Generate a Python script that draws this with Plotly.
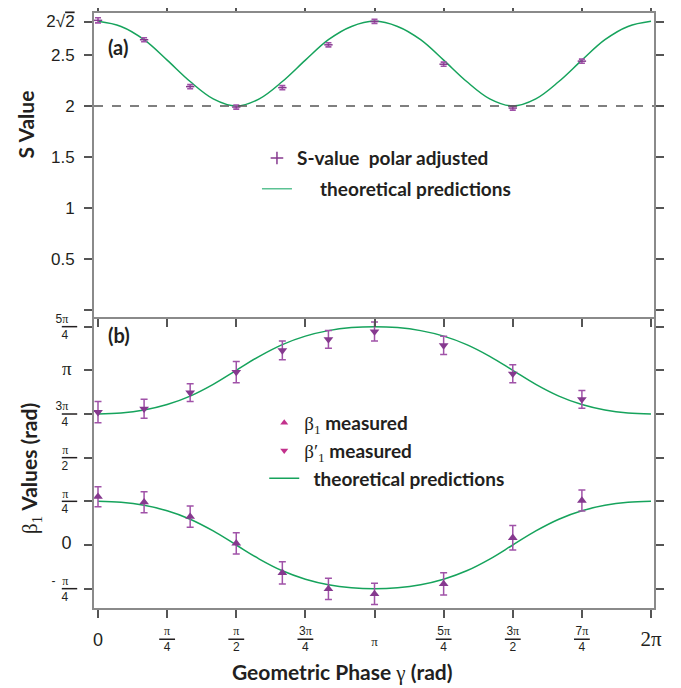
import math
import plotly.graph_objects as go

PI = math.pi

# ---------------- data ----------------
# measurement positions, in units of pi
meas_gamma_pi = [0, 1/6, 1/3, 1/2, 2/3, 5/6, 1, 5/4, 3/2, 7/4]
# theory curve sample positions, in units of pi (steps of pi/12)
curve_gamma_pi = [k / 12 for k in range(25)]

S_meas = [2.84, 2.65, 2.19, 1.99, 2.18, 2.60, 2.83, 2.41, 1.98, 2.44]
S_err = [0.025, 0.02, 0.02, 0.02, 0.02, 0.02, 0.02, 0.02, 0.02, 0.02]
S_curve = [2.83, 2.78, 2.65, 2.45, 2.24, 2.07, 2.00, 2.07, 2.24, 2.45, 2.65, 2.78, 2.83,
           2.78, 2.65, 2.45, 2.24, 2.07, 2.00, 2.07, 2.24, 2.45, 2.65, 2.78, 2.83]

beta_meas = [0.87, 0.77, 0.51, 0.03, -0.50, -0.79, -0.88, -0.70, 0.13, 0.80]
beta_err = [0.18, 0.19, 0.19, 0.19, 0.20, 0.19, 0.19, 0.20, 0.22, 0.19]
betap_meas = [2.39, 2.45, 2.74, 3.11, 3.50, 3.70, 3.84, 3.59, 3.08, 2.62]
betap_err = [0.19, 0.17, 0.16, 0.19, 0.17, 0.16, 0.17, 0.165, 0.16, 0.16]

beta_curve = [0.785, 0.768, 0.714, 0.615, 0.464, 0.253, 0.0, -0.253, -0.464, -0.615, -0.714, -0.768,
              -0.785, -0.768, -0.714, -0.615, -0.464, -0.253, 0.0, 0.253, 0.464, 0.615, 0.714, 0.768, 0.785]
betap_curve = [2.356, 2.374, 2.428, 2.526, 2.678, 2.889, 3.142, 3.394, 3.605, 3.757, 3.856, 3.910,
               3.927, 3.910, 3.856, 3.757, 3.605, 3.394, 3.142, 2.889, 2.678, 2.526, 2.428, 2.374, 2.356]

S_reference = 2.0

x_tick_pi = [0, 1/4, 1/2, 3/4, 1, 5/4, 3/2, 7/4, 2]
x_big_tick_pi = [0, 1, 2]
y_b_tick_pi = [-1/4, 0, 1/4, 1/2, 3/4, 1, 5/4]
y_b_big_tick_pi = [0, 1]
y_a_ticks = [0, 0.5, 1, 1.5, 2, 2.5, 2 * math.sqrt(2)]

# ---------------- styling helpers ----------------
NB = "\u00a0"
SERIF = "Liberation Serif"
SANS = "Liberation Sans"
INK = "#231f20"


def pi_txt(s, size=None):
    st = f"font-family:{SERIF}"
    if size:
        st += f";font-size:{size}px"
    return f"<span style='{st}'>{s}</span>"


def frac(num, den, pad=True):
    p = NB if pad else ""
    return f"{p}{num}{p}<br>{p}{den}{p}"


x_tick_text = [
    "",
    frac(pi_txt("π"), "4", False),
    frac(pi_txt("π"), "2", False),
    frac("3" + pi_txt("π"), "4", False),
    "",
    frac("5" + pi_txt("π"), "4", False),
    frac("3" + pi_txt("π"), "2", False),
    frac("7" + pi_txt("π"), "4", False),
    "",
]
x_big_tick_text = ["0", pi_txt("π", 13), pi_txt("2π", 21)]
y_b_tick_text = [
    "-" + NB + frac(pi_txt("π"), "4"),
    "<span style='font-size:18px'>0</span>",
    frac(pi_txt("π"), "4"),
    frac(pi_txt("π"), "2"),
    frac("3" + pi_txt("π"), "4"),
    pi_txt("π", 19),
    frac("5" + pi_txt("π"), "4"),
]
y_a_tick_text = ["", "0.5", "1", "1.5", "2", "2.5",
                 "2√<span style='text-decoration:overline'>2</span>"]

PURPLE = "#86398f"
ERR = "#a052a8"
MAGENTA = "#c2318c"
GREEN = "#16a35c"
AXIS = "#8a8a8a"
TICK = "#555555"

meas_x = [g * PI for g in meas_gamma_pi]
curve_x = [g * PI for g in curve_gamma_pi]

fig = go.Figure()

# ---- panel (a) ----
fig.add_trace(go.Scatter(
    x=curve_x, y=S_curve, mode="lines", line=dict(color=GREEN, width=1.5, shape="spline"),
    xaxis="x2", yaxis="y2", showlegend=False))
fig.add_trace(go.Scatter(
    x=meas_x, y=S_meas, mode="markers", xaxis="x2", yaxis="y2", showlegend=False,
    marker=dict(symbol="line-ew", size=6, color=PURPLE, line=dict(color=PURPLE, width=1.5)),
    error_y=dict(type="data", array=S_err, color=ERR, thickness=1.6, width=3)))
# legend entries (a)
fig.add_trace(go.Scatter(
    x=[None], y=[None], mode="markers", xaxis="x2", yaxis="y2", legend="legend", legendgroup="a1",
    name="S-value" + NB + NB + "polar adjusted",
    marker=dict(symbol="cross-thin", size=9, color=PURPLE, line=dict(color=PURPLE, width=1.5))))
fig.add_trace(go.Scatter(
    x=[None], y=[None], mode="lines", xaxis="x2", yaxis="y2", legend="legend", legendgroup="a2",
    name=NB * 5 + "theoretical predictions", line=dict(color="#5cc293", width=1.5)))

# ---- panel (b) ----
fig.add_trace(go.Scatter(
    x=curve_x, y=beta_curve, mode="lines", line=dict(color=GREEN, width=1.5, shape="spline"),
    xaxis="x", yaxis="y", showlegend=False))
fig.add_trace(go.Scatter(
    x=curve_x, y=betap_curve, mode="lines", line=dict(color=GREEN, width=1.5, shape="spline"),
    xaxis="x", yaxis="y", showlegend=False))
fig.add_trace(go.Scatter(
    x=meas_x, y=beta_meas, mode="markers", xaxis="x", yaxis="y", showlegend=False,
    marker=dict(symbol="triangle-up", size=8.5, color=PURPLE),
    error_y=dict(type="data", array=beta_err, color=ERR, thickness=1.5, width=3.5)))
fig.add_trace(go.Scatter(
    x=meas_x, y=betap_meas, mode="markers", xaxis="x", yaxis="y", showlegend=False,
    marker=dict(symbol="triangle-down", size=8.5, color=PURPLE),
    error_y=dict(type="data", array=betap_err, color=ERR, thickness=1.5, width=3.5)))
fig.add_trace(go.Scatter(
    x=[None], y=[None], mode="markers", xaxis="x", yaxis="y", legend="legend2", legendgroup="b1",
    name=f"<span style='font-family:{SERIF};font-weight:normal'>β<sub>1</sub></span> measured",
    marker=dict(symbol="triangle-up", size=7, color=MAGENTA)))
fig.add_trace(go.Scatter(
    x=[None], y=[None], mode="markers", xaxis="x", yaxis="y", legend="legend2", legendgroup="b2",
    name=f"<span style='font-family:{SERIF};font-weight:normal'>β′<sub>1</sub></span> measured",
    marker=dict(symbol="triangle-down", size=7, color=MAGENTA)))
fig.add_trace(go.Scatter(
    x=[None], y=[None], mode="lines", xaxis="x", yaxis="y", legend="legend2", legendgroup="b3",
    name=NB * 2 + "theoretical predictions", line=dict(color=GREEN, width=1.5)))
# helper trace so the overlay axis carrying the big tick labels is drawn
fig.add_trace(go.Scatter(x=[None], y=[None], xaxis="x3", yaxis="y", showlegend=False,
                         hoverinfo="skip"))

XR = [-0.0455, 6.317]

# fraction bars under the tick-label numerators (text decoration, placed at the tick values)
frac_shapes = []
for t in x_tick_pi:
    if t not in x_big_tick_pi:
        frac_shapes.append(dict(type="line", xref="x", yref="paper",
                                x0=t * PI - 0.09, x1=t * PI + 0.09, y0=-0.0525, y1=-0.0525,
                                line=dict(color=INK, width=1.5)))
for t in y_b_tick_pi:
    if t not in y_b_big_tick_pi:
        frac_shapes.append(dict(type="line", xref="paper", yref="y",
                                x0=-0.0575, x1=-0.030, y0=t * PI, y1=t * PI,
                                line=dict(color=INK, width=1.5)))

common_x = dict(range=XR, tickvals=[t * PI for t in x_tick_pi], ticks="outside", ticklen=8,
                tickwidth=1.5, tickcolor=TICK, showline=True, linecolor=AXIS, linewidth=2,
                showgrid=False, zeroline=False, automargin=False)
legend_font = dict(family="Lato", size=19, color=INK, weight="bold")
title_font = dict(family="Lato", size=21, color=INK, weight="bold")

# the page body adds an 8px offset; the figure is sized to fill the rest of the window
fig.update_layout(
    width=673, height=680,
    margin=dict(l=86, r=27, t=5, b=80),
    paper_bgcolor="white", plot_bgcolor="white",
    shapes=[dict(type="line", xref="x2 domain", yref="y2", x0=0, x1=1,
                 y0=S_reference, y1=S_reference,
                 line=dict(color="#555555", width=1.5, dash="dash"))] + frac_shapes,
    xaxis=dict(**common_x, anchor="y", domain=[0, 1], mirror=False,
               ticktext=x_tick_text, showticklabels=True, ticklabelstandoff=3,
               tickfont=dict(family=SANS, size=12, color=INK)),
    xaxis3=dict(range=XR, overlaying="x", anchor="y", side="bottom",
                tickvals=[t * PI for t in x_big_tick_pi], ticktext=x_big_tick_text,
                ticks="", showline=False, showgrid=False, zeroline=False, automargin=False,
                ticklabelstandoff=19, tickfont=dict(family=SANS, size=18, color=INK)),
    yaxis=dict(domain=[0, 0.489], anchor="x", range=[-1.133, 4.10],
               tickvals=[t * PI for t in y_b_tick_pi], ticktext=y_b_tick_text,
               ticks="outside", ticklen=8, tickwidth=1.5, tickcolor=TICK,
               showline=True, linecolor=AXIS, linewidth=2, mirror="allticks",
               showgrid=False, zeroline=False, ticklabelstandoff=10, automargin=False,
               tickfont=dict(family=SANS, size=12, color=INK)),
    xaxis2=dict(**common_x, anchor="y2", domain=[0, 1], mirror="allticks", showticklabels=False),
    yaxis2=dict(domain=[0.489, 1], anchor="x2", range=[-0.069, 2.912],
                tickvals=y_a_ticks, ticktext=y_a_tick_text,
                ticks="outside", ticklen=8, tickwidth=1.5, tickcolor=TICK,
                showline=True, linecolor=AXIS, linewidth=2, mirror="allticks",
                showgrid=False, zeroline=False, ticklabelstandoff=6, automargin=False,
                tickfont=dict(family=SANS, size=17, color=INK)),
    legend=dict(x=0.291, y=0.788, xanchor="left", yanchor="top", bgcolor="rgba(0,0,0,0)",
                font=legend_font, tracegroupgap=3, itemwidth=30),
    legend2=dict(x=0.304, y=0.343, xanchor="left", yanchor="top", bgcolor="rgba(0,0,0,0)",
                 font=legend_font, tracegroupgap=0, itemwidth=30),
    annotations=[
        dict(text="(a)", xref="paper", yref="paper", x=0.021, y=0.943, showarrow=False,
             xanchor="left", yanchor="middle", font=dict(family="Lato", size=20, color=INK, weight="bold")),
        dict(text="(b)", xref="paper", yref="paper", x=0.021, y=0.459, showarrow=False,
             xanchor="left", yanchor="middle", font=dict(family="Lato", size=20, color=INK, weight="bold")),
        dict(text="Geometric Phase <span style='font-family:Liberation Serif;font-weight:normal'>γ</span> (rad)",
             xref="paper", yref="paper", x=0.443, y=-0.1076, showarrow=False,
             xanchor="center", yanchor="middle", font=title_font),
        dict(text="S Value", xref="paper", yref="paper", x=-0.123, y=0.813, showarrow=False,
             textangle=-90, xanchor="center", yanchor="middle", font=title_font),
        dict(text=f"<span style='font-family:{SERIF};font-weight:normal'>β<sub>1</sub></span> Values (rad)",
             xref="paper", yref="paper", x=-0.114, y=0.234, showarrow=False,
             textangle=-90, xanchor="center", yanchor="middle", font=title_font),
    ],
)

fig.write_html("out.html")
